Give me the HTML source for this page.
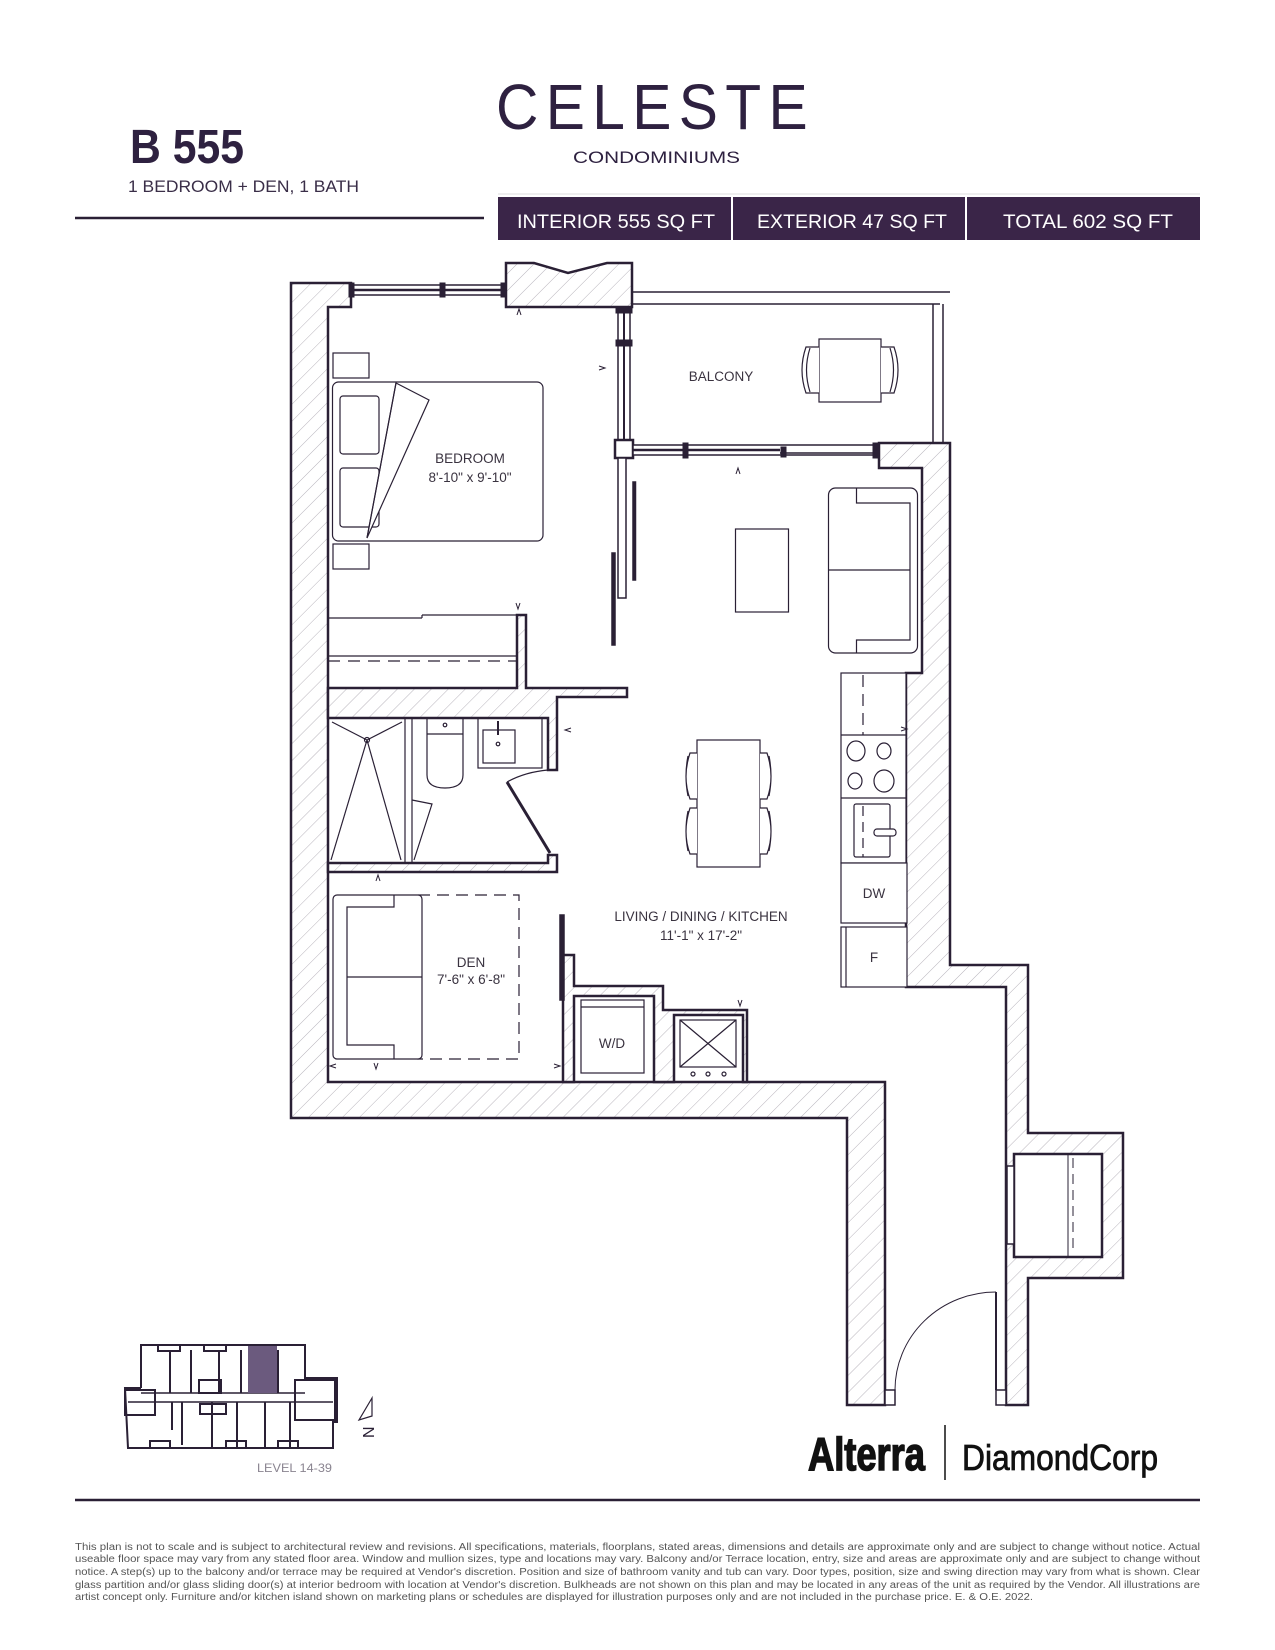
<!DOCTYPE html>
<html><head><meta charset="utf-8"><style>
html,body{margin:0;padding:0;background:#fff}
svg{display:block}
text{font-family:"Liberation Sans",sans-serif}
</style></head><body>
<svg width="1275" height="1650" viewBox="0 0 1275 1650" xmlns="http://www.w3.org/2000/svg">
<defs>
<pattern id="h" patternUnits="userSpaceOnUse" width="12" height="12" patternTransform="rotate(45)">
<rect width="12" height="12" fill="#fff"/>
<line x1="0" y1="0" x2="0" y2="12" stroke="#b8b4bc" stroke-width="1"/>
</pattern>
</defs>
<rect width="1275" height="1650" fill="#fff"/>

<!-- Header -->
<text x="130" y="163" font-size="48" font-weight="bold" fill="#2e2140" textLength="114" lengthAdjust="spacingAndGlyphs">B 555</text>
<text x="128" y="192" font-size="17" fill="#3a2e48" textLength="231" lengthAdjust="spacingAndGlyphs">1 BEDROOM + DEN, 1 BATH</text>
<line x1="75" y1="218" x2="484" y2="218" stroke="#2a2035" stroke-width="2.5"/>
<text x="496" y="129" font-size="64" fill="#2e2140" textLength="319" lengthAdjust="spacingAndGlyphs" style="letter-spacing:8px">CELESTE</text>
<text x="573" y="163" font-size="17" fill="#2e2140" textLength="167" lengthAdjust="spacingAndGlyphs">CONDOMINIUMS</text>
<line x1="498" y1="194" x2="1200" y2="194" stroke="#ddd" stroke-width="1"/>
<rect x="498" y="197" width="702" height="43" fill="#3a2548"/>
<rect x="731" y="197" width="2" height="43" fill="#fff"/>
<rect x="965" y="197" width="2" height="43" fill="#fff"/>
<text x="517" y="228" font-size="19" fill="#fff" textLength="198" lengthAdjust="spacingAndGlyphs">INTERIOR 555 SQ FT</text>
<text x="757" y="228" font-size="19" fill="#fff" textLength="190" lengthAdjust="spacingAndGlyphs">EXTERIOR 47 SQ FT</text>
<text x="1003" y="228" font-size="19" fill="#fff" textLength="170" lengthAdjust="spacingAndGlyphs">TOTAL 602 SQ FT</text>

<!-- Floor plan -->
<g stroke="#2a2035" stroke-width="2.5" fill="url(#h)" stroke-linejoin="miter">
<polygon points="291,283 351,283 351,307 328,307 328,1082 885,1082 885,1405 847,1405 847,1118 291,1118"/>
<polygon points="506,307 506,263 534,263 568,273 607,263 632,263 632,307"/>
<polygon points="879,443 950,443 950,965 1028,965 1028,1133 1123,1133 1123,1278 1028,1278 1028,1405 1006,1405 1006,987 906,987 906,673 922,673 922,468 879,468"/>
<polygon points="328,688 517,688 517,615 526,615 526,688 627,688 627,697 557,697 557,770 548,770 548,718 328,718"/>
<polygon points="328,863 548,863 548,855 557,855 557,872 328,872"/>
<polygon points="563,955 574,955 574,986 663,986 663,1010 747,1010 747,1082 743,1082 743,1015 674,1015 674,1082 654,1082 654,996 574,996 574,1082 563,1082"/>
</g>
<!-- bulge interior -->
<rect x="1014" y="1154" width="88" height="103" fill="#fff" stroke="#2a2035" stroke-width="2.5"/>
<line x1="1068" y1="1154" x2="1068" y2="1257" stroke="#2a2035" stroke-width="1"/>
<line x1="1073" y1="1158" x2="1073" y2="1254" stroke="#2a2035" stroke-width="1" stroke-dasharray="10,6"/>
<rect x="1007" y="1166" width="7" height="78" fill="#fff" stroke="#2a2035" stroke-width="1.5"/>
<!-- corridor door -->
<rect x="885" y="1390" width="10" height="15" fill="#fff" stroke="#2a2035" stroke-width="1.5"/>
<rect x="996" y="1390" width="10" height="15" fill="#fff" stroke="#2a2035" stroke-width="1.5"/>
<line x1="996" y1="1292" x2="996" y2="1390" stroke="#2a2035" stroke-width="2"/>
<path d="M895,1390 A101,98 0 0 1 996,1292" fill="none" stroke="#2a2035" stroke-width="1"/>

<!-- top window -->
<g stroke="#2a2035" fill="#fff">
<rect x="351" y="285" width="155" height="10" stroke-width="1.5"/>
<line x1="351" y1="290" x2="506" y2="290" stroke-width="2.5"/>
<rect x="349" y="283" width="5" height="14" fill="#2a2035"/>
<rect x="440" y="283" width="5" height="14" fill="#2a2035"/>
<rect x="501" y="283" width="5" height="14" fill="#2a2035"/>
</g>
<!-- balcony -->
<g stroke="#2a2035" stroke-width="1.5" fill="none">
<line x1="632" y1="292" x2="950" y2="292"/>
<line x1="632" y1="304" x2="940" y2="304"/>
<line x1="933" y1="304" x2="933" y2="443"/>
<line x1="943" y1="304" x2="943" y2="443"/>
</g>
<!-- bedroom/balcony glass -->
<g stroke="#2a2035" fill="#fff">
<rect x="618" y="307" width="12" height="140" stroke-width="1.5"/>
<line x1="624" y1="307" x2="624" y2="447" stroke-width="2"/>
<rect x="616" y="307" width="16" height="6" fill="#2a2035"/>
<rect x="616" y="340" width="16" height="6" fill="#2a2035"/>
<rect x="615" y="440" width="18" height="18" stroke-width="2.5"/>
<rect x="633" y="445" width="246" height="10" stroke-width="1.5"/>
<line x1="633" y1="450" x2="780" y2="450" stroke-width="2.5"/>
<line x1="780" y1="453" x2="879" y2="453" stroke-width="1.5"/>
<rect x="683" y="443" width="5" height="15" fill="#2a2035"/>
<rect x="781" y="447" width="5" height="10" fill="#2a2035"/>
<rect x="873" y="443" width="6" height="15" fill="#2a2035"/>
</g>
<!-- bedroom/living partition -->
<g stroke="#2a2035" fill="#fff" stroke-width="1.5">
<rect x="618" y="458" width="8" height="140"/>
<rect x="633" y="482" width="2.5" height="98" fill="#2a2035"/>
<rect x="612" y="553" width="3" height="92" fill="#2a2035"/>
<rect x="560" y="915" width="4" height="85" fill="#2a2035"/>
</g>

<!-- bedroom furniture -->
<g stroke="#2a2035" stroke-width="1.2" fill="#fff">
<rect x="333" y="353" width="36" height="25"/>
<rect x="333" y="544" width="36" height="25"/>
<rect x="332.5" y="382" width="210.5" height="159" rx="6"/>
<rect x="340" y="396" width="39" height="58" rx="3"/>
<rect x="340" y="468" width="39" height="59" rx="3"/>
<polygon points="396,383 429,400 367,538"/>
<polyline points="396,383 367,538" fill="none"/>
<line x1="328" y1="618" x2="422" y2="618"/>
<line x1="422" y1="618" x2="422" y2="615"/>
<line x1="422" y1="615" x2="517" y2="615"/>
<line x1="328" y1="656" x2="517" y2="656"/>
<line x1="328" y1="661" x2="517" y2="661" stroke-dasharray="12,8"/>
</g>
<text x="470" y="463" font-size="13.5" fill="#3a3340" text-anchor="middle">BEDROOM</text>
<text x="470" y="482" font-size="13.5" fill="#3a3340" text-anchor="middle">8'-10" x 9'-10"</text>

<!-- balcony furniture -->
<g stroke="#2a2035" stroke-width="1.2" fill="#fff">
<rect x="819" y="339" width="62" height="63"/>
<path d="M819,347 L806,347 Q798,370 806,393 L819,393"/>
<path d="M810,348 Q803,370 810,392" fill="none"/>
<path d="M881,347 L894,347 Q902,370 894,393 L881,393"/>
<path d="M890,348 Q897,370 890,392" fill="none"/>
</g>
<text x="721" y="381" font-size="13.5" fill="#3a3340" text-anchor="middle">BALCONY</text>

<!-- living -->
<g stroke="#2a2035" stroke-width="1.2" fill="#fff">
<rect x="735.5" y="529" width="53" height="83"/>
<rect x="828.5" y="488" width="89" height="165" rx="7"/>
<polyline points="856.5,488 856.5,503 910,503 910,640 856.5,640 856.5,653" fill="none"/>
<line x1="828.5" y1="570" x2="910" y2="570"/>
<rect x="697" y="740" width="63" height="127"/>
<path d="M697,753 L690,753 Q682,777 690,799 L697,799 M688,756 Q684,776 688,796"/>
<path d="M697,808 L690,808 Q682,832 690,854 L697,854 M688,811 Q684,831 688,851"/>
<path d="M760,753 L767,753 Q775,777 767,799 L760,799 M769,756 Q773,776 769,796"/>
<path d="M760,808 L767,808 Q775,832 767,854 L760,854 M769,811 Q773,831 769,851"/>
</g>
<text x="701" y="921" font-size="13.5" fill="#3a3340" text-anchor="middle">LIVING / DINING / KITCHEN</text>
<text x="701" y="940" font-size="13.5" fill="#3a3340" text-anchor="middle">11'-1" x 17'-2"</text>

<!-- kitchen -->
<g stroke="#2a2035" stroke-width="1.2" fill="#fff">
<rect x="841" y="673" width="65" height="190"/>
<line x1="863" y1="675" x2="863" y2="735" stroke-dasharray="12,7"/>
<line x1="841" y1="735" x2="906" y2="735"/>
<line x1="841" y1="798" x2="906" y2="798"/>
<ellipse cx="856" cy="751" rx="9" ry="10"/>
<ellipse cx="884" cy="751" rx="7" ry="8"/>
<ellipse cx="855" cy="781" rx="7" ry="8"/>
<ellipse cx="884" cy="781" rx="10" ry="11"/>
<rect x="854" y="804" width="36" height="53" rx="2"/>
<rect x="874" y="829" width="22" height="7" rx="3"/>
<line x1="863" y1="806" x2="863" y2="857" stroke-dasharray="10,6"/>
<rect x="841" y="863" width="66" height="60"/>
<rect x="841" y="927" width="66" height="60"/>
<line x1="846" y1="927" x2="846" y2="987"/>
</g>
<text x="874" y="898" font-size="13.5" fill="#3a3340" text-anchor="middle">DW</text>
<text x="874" y="962" font-size="13.5" fill="#3a3340" text-anchor="middle">F</text>

<!-- bath -->
<g stroke="#2a2035" stroke-width="1.2" fill="none">
<line x1="405" y1="718" x2="405" y2="863"/>
<line x1="412" y1="718" x2="412" y2="863"/>
<line x1="367" y1="740" x2="332" y2="722"/>
<line x1="367" y1="740" x2="402" y2="722"/>
<line x1="367" y1="740" x2="331" y2="860"/>
<line x1="367" y1="740" x2="401" y2="860"/>
<circle cx="367" cy="740" r="2.5"/>
<path d="M427,718 L427,775 Q427,788 445,788 Q463,788 463,775 L463,718"/>
<line x1="427" y1="734" x2="463" y2="734"/>
<circle cx="445" cy="725" r="1.8"/>
<rect x="478" y="718" width="64" height="50"/>
<rect x="483" y="730" width="32" height="33"/>
<line x1="498" y1="721" x2="498" y2="735" stroke-width="2"/>
<circle cx="498" cy="744" r="1.8"/>
<path d="M412,800 L432,804 L414,860"/>
<path d="M507,782 Q525,772 548,770"/>
</g>
<line x1="507" y1="782" x2="550" y2="853" stroke="#2a2035" stroke-width="3"/>

<!-- den -->
<g stroke="#2a2035" stroke-width="1.2" fill="#fff">
<rect x="418" y="895" width="101" height="164" fill="none" stroke-dasharray="12,7"/>
<rect x="333" y="895" width="89" height="164" rx="4"/>
<polyline points="394,895 394,907 347,907 347,1045 394,1045 394,1059" fill="none"/>
<line x1="347" y1="977" x2="422" y2="977"/>
</g>
<text x="471" y="967" font-size="13.5" fill="#3a3340" text-anchor="middle">DEN</text>
<text x="471" y="984" font-size="13.5" fill="#3a3340" text-anchor="middle">7'-6" x 6'-8"</text>

<!-- W/D and panel -->
<g stroke="#2a2035" stroke-width="1.2" fill="#fff">
<rect x="581" y="1000" width="63" height="73"/>
<line x1="581" y1="1007" x2="644" y2="1007"/>
<rect x="680" y="1020" width="56" height="47"/>
<line x1="680" y1="1020" x2="736" y2="1067"/>
<line x1="736" y1="1020" x2="680" y2="1067"/>
<circle cx="693" cy="1074" r="2"/><circle cx="708" cy="1074" r="2"/><circle cx="724" cy="1074" r="2"/>
</g>
<text x="612" y="1048" font-size="13.5" fill="#3a3340" text-anchor="middle">W/D</text>

<!-- small door arrows -->
<g stroke="#2a2035" stroke-width="1" fill="none">
<path d="M517,315 l2,-6 l2,6"/>
<path d="M599,366 l6,2 l-6,2"/>
<path d="M736,474 l2,-6 l2,6"/>
<path d="M516,603 l2,6 l2,-6"/>
<path d="M571,728 l-6,2 l6,2"/>
<path d="M901,727 l6,2 l-6,2"/>
<path d="M376,881 l2,-6 l2,6"/>
<path d="M374,1063 l2,6 l2,-6"/>
<path d="M336,1064 l-6,2 l6,2"/>
<path d="M554,1064 l6,2 l-6,2"/>
<path d="M738,1000 l2,6 l2,-6"/>
</g>

<!-- Keyplan -->
<g stroke="#2a2035" stroke-width="2" fill="none">
<polyline points="141,1388 141,1345 305,1345 305,1378 337,1378 337,1422 333,1422 333,1448 128,1448 125,1388 141,1388"/>
<line x1="141" y1="1393" x2="305" y2="1393" stroke-width="1.5"/>
<line x1="128" y1="1402" x2="333" y2="1402" stroke-width="1.5"/>
<line x1="170" y1="1350" x2="170" y2="1393"/>
<line x1="191" y1="1350" x2="191" y2="1393"/>
<line x1="219" y1="1350" x2="219" y2="1393"/>
<line x1="241" y1="1350" x2="241" y2="1393"/>
<line x1="278" y1="1350" x2="278" y2="1393"/>
<rect x="199" y="1380" width="22" height="13"/>
<line x1="172" y1="1402" x2="172" y2="1430"/>
<line x1="182" y1="1402" x2="182" y2="1445"/>
<line x1="212" y1="1402" x2="212" y2="1448"/>
<line x1="237" y1="1402" x2="237" y2="1448"/>
<line x1="265" y1="1402" x2="265" y2="1448"/>
<line x1="290" y1="1402" x2="290" y2="1448"/>
<rect x="200" y="1404" width="26" height="10"/>
<rect x="125" y="1390" width="30" height="25"/>
<rect x="295" y="1380" width="40" height="40"/>
<rect x="150" y="1441" width="20" height="7"/>
<rect x="226" y="1441" width="20" height="7"/>
<rect x="278" y="1441" width="20" height="7"/>
<rect x="158" y="1345" width="22" height="6"/>
<rect x="204" y="1345" width="22" height="6"/>
</g>
<rect x="248" y="1346" width="29" height="47" fill="#6b5a7e"/>
<path d="M372,1398 L359,1420 L372,1416 Z" fill="none" stroke="#2a2035" stroke-width="1.2"/>
<text x="360" y="1440" font-size="16" fill="#2a2035" transform="rotate(-90 366 1432)">N</text>
<text x="257" y="1472" font-size="12" fill="#8a8490" textLength="75" lengthAdjust="spacingAndGlyphs">LEVEL 14-39</text>

<!-- Logos -->
<text x="808" y="1470" font-size="46" font-weight="bold" fill="#111" stroke="#111" stroke-width="1.5" textLength="117" lengthAdjust="spacingAndGlyphs">Alterra</text>
<line x1="945" y1="1425" x2="945" y2="1480" stroke="#111" stroke-width="1.5"/>
<text x="962" y="1470" font-size="36" fill="#111" stroke="#111" stroke-width="0.8" textLength="196" lengthAdjust="spacingAndGlyphs">DiamondCorp</text>

<line x1="75" y1="1500" x2="1200" y2="1500" stroke="#2a2035" stroke-width="2.5"/>

<g font-size="10" fill="#555">
<text x="75" y="1550" textLength="1125" lengthAdjust="spacingAndGlyphs">This plan is not to scale and is subject to architectural review and revisions. All specifications, materials, floorplans, stated areas, dimensions and details are approximate only and are subject to change without notice. Actual</text>
<text x="75" y="1562" textLength="1125" lengthAdjust="spacingAndGlyphs">useable floor space may vary from any stated floor area. Window and mullion sizes, type and locations may vary. Balcony and/or Terrace location, entry, size and areas are approximate only and are subject to change without</text>
<text x="75" y="1575" textLength="1125" lengthAdjust="spacingAndGlyphs">notice.  A step(s) up to the balcony and/or terrace may be required at Vendor's discretion.  Position and size of bathroom vanity and tub can vary.  Door types, position, size and swing direction may vary from what is shown. Clear</text>
<text x="75" y="1588" textLength="1125" lengthAdjust="spacingAndGlyphs">glass partition and/or glass sliding door(s) at interior bedroom with location at Vendor's discretion. Bulkheads are not shown on this plan and may be located in any areas of the unit as required by the Vendor. All illustrations are</text>
<text x="75" y="1600" textLength="958" lengthAdjust="spacingAndGlyphs">artist concept only. Furniture and/or kitchen island shown on marketing plans or schedules are displayed for illustration purposes only and are not included in the purchase price. E. &amp; O.E. 2022.</text>
</g>
</svg>
</body></html>
